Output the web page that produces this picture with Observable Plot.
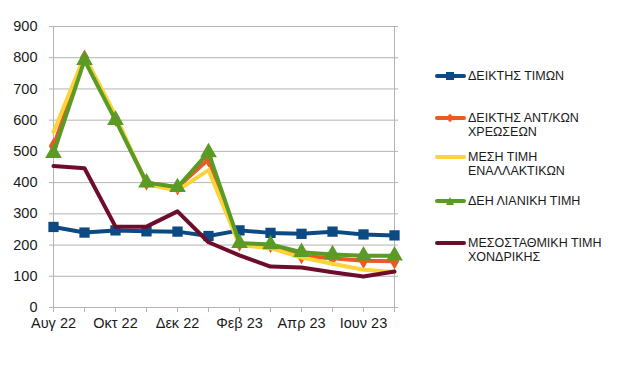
<!DOCTYPE html>
<html>
<head>
<meta charset="utf-8">
<script src="https://cdn.jsdelivr.net/npm/d3@7"></script>
<script src="https://cdn.jsdelivr.net/npm/@observablehq/plot@0.6"></script>
<style>
  html, body { margin: 0; padding: 0; background: #fff; }
  #wrap { position: relative; width: 623px; height: 373px; font-family: "Liberation Sans", Arial, sans-serif; }
  .leg { position: absolute; left: 435px; display: flex; align-items: flex-start; font-size: 12.5px; line-height: 14px; color: #1a1a1a; }
  .sw { position: relative; width: 31px; height: 14px; margin-right: 2px; flex: none; }
  .sw .ln { position: absolute; left: 0; right: 0; top: 5px; height: 4px; border-radius: 2px; }
  .sw .mk { position: absolute; left: 11px; top: 3px; width: 8px; height: 8px; }
</style>
</head>
<body>
<div id="wrap"></div>
<script>
const months = ["Αυγ 22","Σεπ 22","Οκτ 22","Νοε 22","Δεκ 22","Ιαν 23","Φεβ 23","Μαρ 23","Απρ 23","Μαϊ 23","Ιουν 23","Ιουλ 23"];
const labelled = ["Αυγ 22","Οκτ 22","Δεκ 22","Φεβ 23","Απρ 23","Ιουν 23"];
const yTicks = [0,100,200,300,400,500,600,700,800,900];

const seriesNames = ["ΔΕΙΚΤΗΣ ΤΙΜΩΝ","ΔΕΙΚΤΗΣ ΑΝΤ/ΚΩΝ ΧΡΕΩΣΕΩΝ","ΜΕΣΗ ΤΙΜΗ ΕΝΑΛΛΑΚΤΙΚΩΝ","ΔΕΗ ΛΙΑΝΙΚΗ ΤΙΜΗ","ΜΕΣΟΣΤΑΘΜΙΚΗ ΤΙΜΗ ΧΟΝΔΡΙΚΗΣ"];
const legendLines = [["ΔΕΙΚΤΗΣ ΤΙΜΩΝ"],["ΔΕΙΚΤΗΣ ΑΝΤ/ΚΩΝ","ΧΡΕΩΣΕΩΝ"],["ΜΕΣΗ ΤΙΜΗ","ΕΝΑΛΛΑΚΤΙΚΩΝ"],["ΔΕΗ ΛΙΑΝΙΚΗ ΤΙΜΗ"],["ΜΕΣΟΣΤΑΘΜΙΚΗ ΤΙΜΗ","ΧΟΝΔΡΙΚΗΣ"]];
const colors = ["#0b4a82","#ec5a24","#fdd33a","#5a9b26","#6e0d2b"];
const symbols = ["square","diamond",null,"triangle",null];

const priceIndex   = [258,240,247,244,243,229,247,239,236,243,234,231];
const chargesIndex = [517,800,605,400,385,475,205,200,165,158,150,148];
const altAverage   = [562,805,615,395,375,440,200,190,160,140,121,114];
const deiRetail    = [494,792,600,400,385,497,206,202,177,170,166,166];
const wholesale    = [453,446,259,259,308,209,167,131,128,113,99,115];

const allSeries = [priceIndex, chargesIndex, altAverage, deiRetail, wholesale];

const rows = allSeries.flatMap((vals, s) => vals.map((v, i) => ({month: months[i], value: v, series: s})));

const marks = [
  Plot.gridY(yTicks, {stroke: "#b3b3b3", strokeOpacity: 1, strokeWidth: 1}),
  Plot.ruleX([months[months.length - 1]], {y1: 0, y2: 900, stroke: "#b3b3b3"}),
  Plot.ruleX([months[0]], {y1: 0, y2: 900, stroke: "#b3b3b3"}),
  Plot.ruleY([0], {stroke: "#b3b3b3"}),
  Plot.axisY({ticks: yTicks, tickSize: 0, tickPadding: 12, fontSize: 14.5, fill: "#1a1a1a"}),
  Plot.axisX({ticks: months, tickSize: 5, tickPadding: 5, stroke: "#b3b3b3", fontSize: 14.5, fill: "#1a1a1a",
    tickFormat: d => labelled.includes(d) ? d : ""})
];
allSeries.forEach((vals, s) => {
  const d = rows.filter(r => r.series === s);
  marks.push(Plot.line(d, {x: "month", y: "value", stroke: colors[s], strokeWidth: 4, strokeLinejoin: "round", strokeLinecap: "round"}));
  if (symbols[s]) {
    marks.push(Plot.dot(d, {x: "month", y: "value", symbol: symbols[s], fill: colors[s], stroke: "none",
      r: symbols[s] === "square" ? 5.8 : symbols[s] === "triangle" ? 6.2 : 5}));
  }
});

const chart = Plot.plot({
  width: 623,
  height: 373,
  marginLeft: 49,
  marginRight: 225,
  marginTop: 26,
  marginBottom: 66,
  style: {fontFamily: "Liberation Sans, Arial, sans-serif", background: "#fff"},
  x: {type: "point", domain: months, padding: 0, label: null},
  y: {domain: [0, 900], label: null},
  marks
});
const wrap = document.getElementById("wrap");
wrap.appendChild(chart);

const legendTops = [69, 111, 150, 194, 236];
legendLines.forEach((lines, s) => {
  const el = document.createElement("div");
  el.className = "leg";
  el.style.top = legendTops[s] + "px";
  const sw = document.createElement("div");
  sw.className = "sw";
  const ln = document.createElement("div");
  ln.className = "ln";
  ln.style.background = colors[s];
  sw.appendChild(ln);
  if (symbols[s]) {
    const mk = document.createElement("div");
    mk.className = "mk";
    mk.style.background = colors[s];
    if (symbols[s] === "diamond") { mk.style.transform = "rotate(45deg) scale(0.75)"; }
    if (symbols[s] === "triangle") { mk.style.clipPath = "polygon(50% 0, 100% 100%, 0 100%)"; }
    sw.appendChild(mk);
  }
  el.appendChild(sw);
  const tx = document.createElement("div");
  tx.innerHTML = lines.join("<br>");
  el.appendChild(tx);
  wrap.appendChild(el);
});
</script>
</body>
</html>
